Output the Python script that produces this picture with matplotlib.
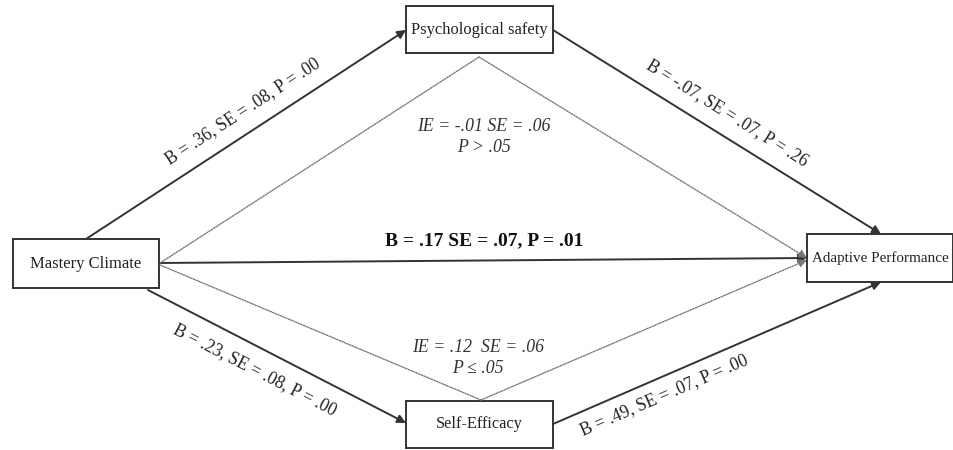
import matplotlib
matplotlib.use("Agg")
import matplotlib.pyplot as plt
from matplotlib.patches import Rectangle, FancyArrowPatch
import numpy as np

plt.rcParams['font.family'] = ['Liberation Serif', 'DejaVu Serif']

# Nodes
node_names = ["Mastery Climate", "Psychological safety", "Self-Efficacy", "Adaptive Performance"]
# box (x0, y0, x1, y1) in pixel coords (y down)
node_boxes = [(13, 239, 159, 288), (406, 6, 553, 53), (406, 401, 553, 448), (807, 234, 953, 282)]

# Direct paths: label texts
path_labels = ["B = .36, SE = .08, P = .00", "B = -.07, SE = .07, P = .26",
               "B = .23, SE = .08, P = .00", "B = .49, SE = .07, P = .00"]
direct_label = "B = .17 SE = .07, P = .01"
indirect_labels = ["IE = -.01 SE = .06\nP > .05", "IE = .12  SE = .06\nP \u2264 .05"]

fig = plt.figure(figsize=(9.54, 4.5), dpi=100)
ax = fig.add_axes([0, 0, 1, 1])
ax.set_xlim(0, 954)
ax.set_ylim(450, 0)
ax.axis('off')

box_fs = [12.0, 11.9, 11.8, 10.9]
for name, (x0, y0, x1, y1), fs in zip(node_names, node_boxes, box_fs):
    ax.add_patch(Rectangle((x0, y0), x1 - x0, y1 - y0, fill=False, ec='#333333', lw=1.4))
    ax.text((x0 + x1) / 2, (y0 + y1) / 2, name, ha='center', va='center', fontsize=fs, color='#222222')

def arrow(p, q, ls='-', color='#333333', lw=1.4, head=True):
    style = '-|>,head_length=5,head_width=2.5' if head else '-'
    a = FancyArrowPatch(p, q, arrowstyle=style, mutation_scale=1, color=color, lw=lw,
                        linestyle=ls, shrinkA=0, shrinkB=0)
    ax.add_patch(a)

# Solid paths
segs = [((86, 239), (406, 30)), ((553, 30), (881, 234)),
        ((148, 290), (406, 423)), ((553, 424), (881, 282))]
for p, q in segs:
    arrow(p, q)
arrow((159, 263), (807, 258))

# Dotted indirect paths
dcol = '#777777'
arrow((160, 263), (479, 57), ls=(0, (1, 1)), color=dcol, lw=1.0, head=False)
arrow((479, 57), (807, 258), ls=(0, (1, 1)), color=dcol, lw=1.0)
arrow((160, 265), (481, 400), ls=(0, (1, 1)), color=dcol, lw=1.0, head=False)
arrow((481, 400), (807, 260), ls=(0, (1, 1)), color=dcol, lw=1.0)

# Path labels
label_pos = [(243, 111), (727, 113), (255, 370), (664, 395)]
for (p, q), lab, pos in zip(segs, path_labels, label_pos):
    ang = np.degrees(np.arctan2(-(q[1] - p[1]), q[0] - p[0]))
    ax.text(pos[0], pos[1], lab, rotation=ang, rotation_mode='anchor', ha='center', va='center',
            fontsize=12.7, color='#222222')

ax.text(484, 241, direct_label, ha='center', va='center', fontsize=14, fontweight='bold', color='#111111')
ax.text(484, 137, indirect_labels[0], ha='center', va='center', fontsize=12.8, style='italic',
        color='#333333', linespacing=1.35)
ax.text(478, 358, indirect_labels[1], ha='center', va='center', fontsize=12.8, style='italic',
        color='#333333', linespacing=1.35)

fig.savefig('out.png', dpi=100)
